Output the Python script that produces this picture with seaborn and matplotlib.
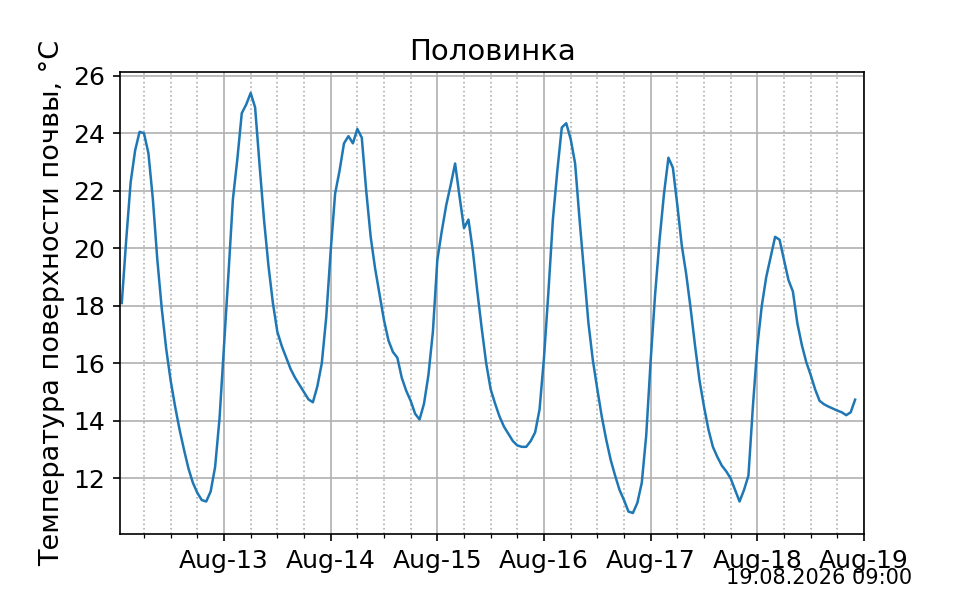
import pandas as pd
import matplotlib
matplotlib.use("Agg")
import matplotlib.pyplot as plt
import matplotlib.dates as mdates
import seaborn as sns

# hourly soil surface temperature, Aug 12 01:00 .. Aug 18 22:00
aug12 = [18.1, 20.3, 22.3, 23.4, 24.05, 24.0, 23.3, 21.7, 19.6, 17.9, 16.5, 15.4,
         14.5, 13.7, 13.0, 12.35, 11.85, 11.5, 11.25, 11.2, 11.55, 12.4, 14.1]
aug13 = [16.6, 19.1, 21.7, 23.1, 24.7, 25.0, 25.4, 24.9, 22.9, 21.0, 19.4, 18.1,
         17.1, 16.6, 16.2, 15.8, 15.5, 15.25, 15.0, 14.75, 14.65, 15.2, 16.0, 17.6]
aug14 = [19.9, 21.9, 22.7, 23.65, 23.9, 23.65, 24.15, 23.85, 22.0, 20.4, 19.3, 18.4,
         17.5, 16.8, 16.4, 16.2, 15.5, 15.05, 14.7, 14.25, 14.05, 14.6, 15.6, 17.1]
aug15 = [19.6, 20.6, 21.5, 22.2, 22.95, 21.8, 20.7, 21.0, 19.9, 18.5, 17.2, 16.0,
         15.1, 14.6, 14.15, 13.8, 13.55, 13.3, 13.15, 13.1, 13.1, 13.3, 13.6, 14.4]
aug16 = [16.2, 18.5, 21.0, 22.7, 24.2, 24.35, 23.8, 22.95, 21.0, 19.2, 17.4, 16.1,
         15.1, 14.15, 13.35, 12.65, 12.1, 11.6, 11.25, 10.85, 10.8, 11.15, 11.85, 13.5]
aug17 = [16.1, 18.4, 20.3, 21.9, 23.15, 22.8, 21.5, 20.1, 19.1, 17.9, 16.6, 15.4,
         14.5, 13.7, 13.1, 12.75, 12.45, 12.25, 12.0, 11.6, 11.2, 11.6, 12.1, 14.5]
aug18 = [16.6, 18.0, 19.0, 19.7, 20.4, 20.3, 19.6, 18.9, 18.5, 17.4, 16.65, 16.05,
         15.6, 15.1, 14.7, 14.58, 14.5, 14.43, 14.36, 14.3, 14.2, 14.3, 14.74]

temps = aug12 + aug13 + aug14 + aug15 + aug16 + aug17 + aug18
df = pd.DataFrame({
    "time": pd.date_range("2026-08-12 01:00", periods=len(temps), freq="h"),
    "temp": temps,
})

station = "Половинка"
stamp = "19.08.2026 09:00"

fig, ax = plt.subplots(figsize=(6.4, 4), dpi=150)
sns.lineplot(data=df, x="time", y="temp", ax=ax, linewidth=1.2, color="#1f77b4")

ax.set_xlim(pd.Timestamp("2026-08-12 00:36"), pd.Timestamp("2026-08-19 00:00"))
ax.xaxis.set_major_locator(mdates.DayLocator())
ax.xaxis.set_major_formatter(mdates.DateFormatter("%b-%d"))
ax.xaxis.set_minor_locator(mdates.HourLocator(byhour=[6, 12, 18]))

ax.grid(which="major", color="#b0b0b0", linewidth=0.8)
ax.grid(which="minor", axis="x", color="#b0b0b0", linestyle=":", linewidth=0.8)
ax.tick_params(labelsize=12)

ax.set_xlabel("")
ax.set_ylabel("Температура поверхности почвы, °C", fontsize=13)
ax.set_title(station, fontsize=14)

fig.text(0.95, 0.027, stamp, ha="right", fontsize=10)

plt.savefig("out.png", dpi=150)
